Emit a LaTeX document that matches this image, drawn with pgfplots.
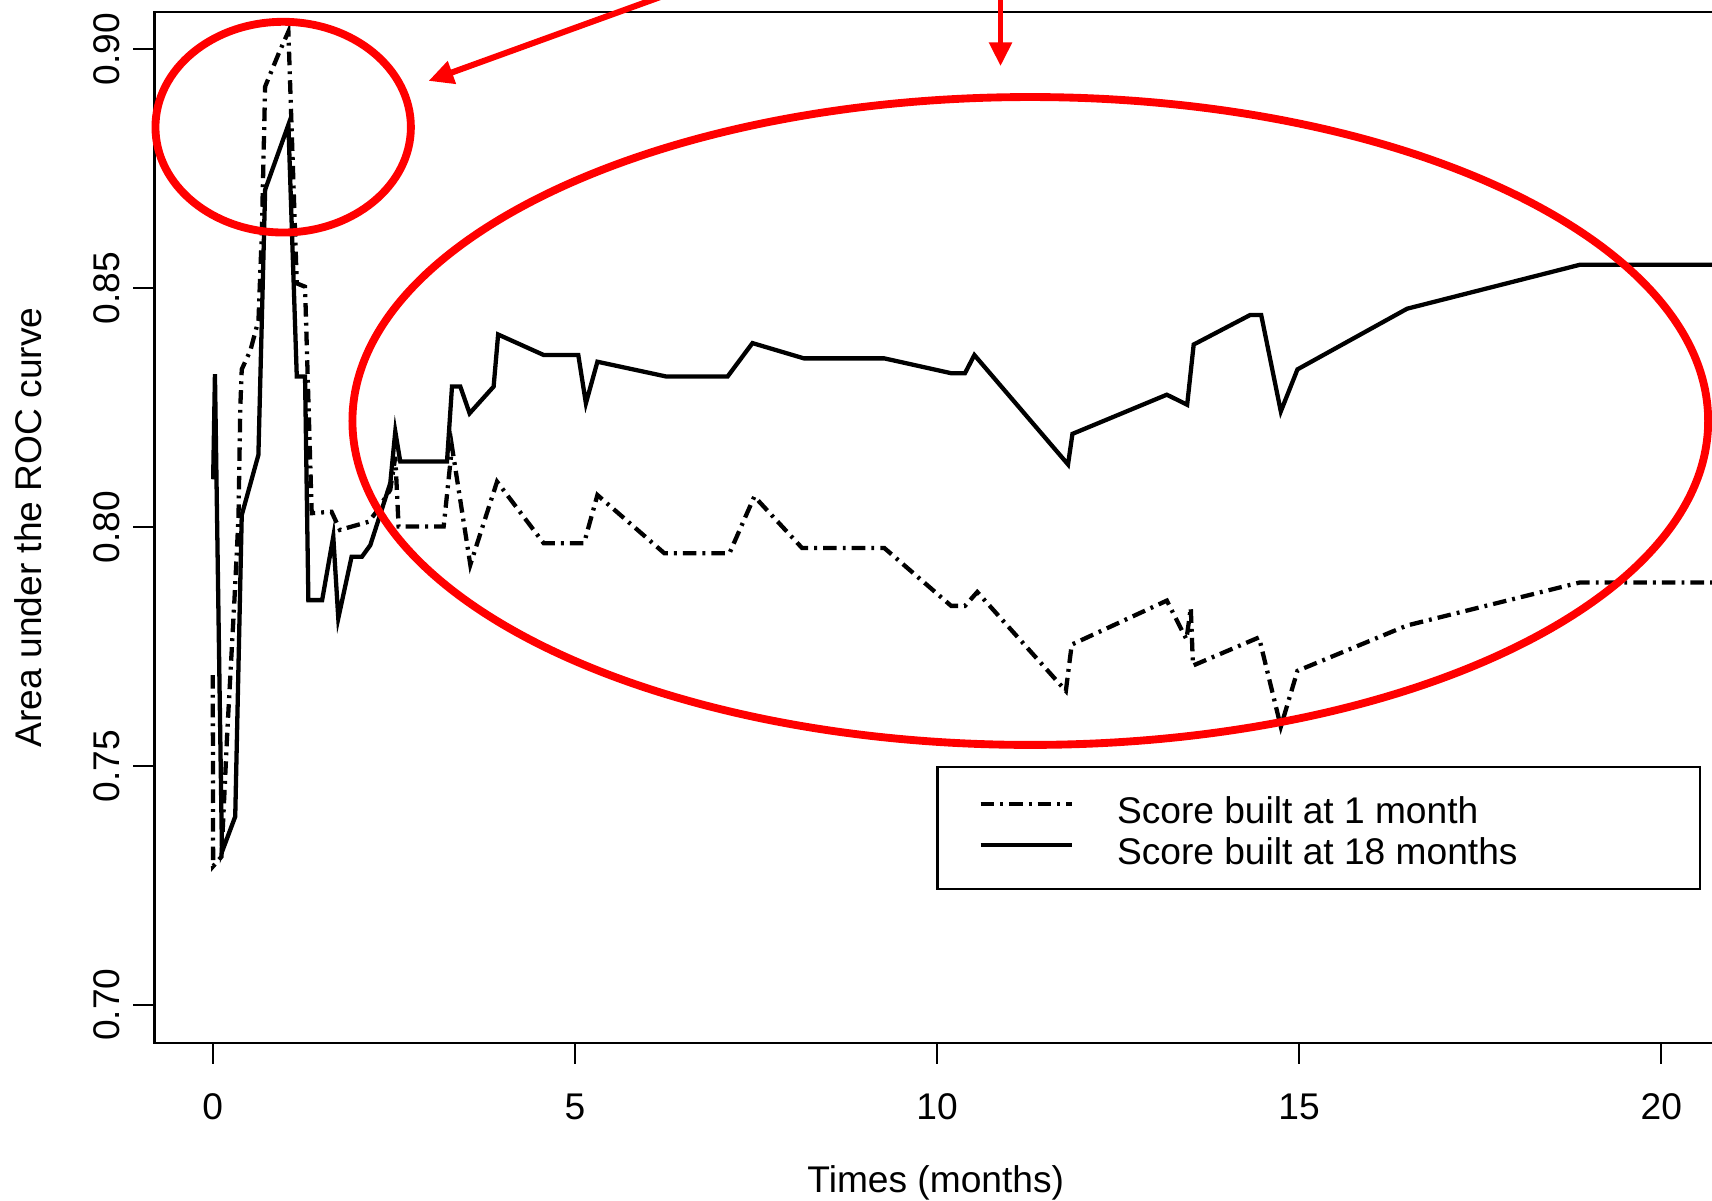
\documentclass[border=0pt]{standalone}
\usepackage{fontspec}
\setmainfont{Liberation Sans}
\usepackage{pgfplots}
\pgfplotsset{compat=1.18}
\usetikzlibrary{arrows.meta}
\newcommand{\fsz}{\fontsize{10.4}{12.5}\selectfont}
\definecolor{annred}{RGB}{255,0,0}
\begin{document}
\begin{tikzpicture}
\begin{axis}[
  scale only axis, width=437.5pt, height=288.6pt,
  xmin=-0.805, xmax=20.77, ymin=0.69205, ymax=0.9078,
  clip=false,
  axis line style={line width=0.6pt},
  tick style={line width=0.6pt, black},
  tick align=outside, major tick length=5.9pt,
  tick pos=left,
  xtick={0,5,10,15,20},
  ytick={0.70,0.75,0.80,0.85,0.90},
  /pgf/number format/assume math mode=true,
  yticklabel style={/pgf/number format/.cd, fixed, fixed zerofill, precision=2, /tikz/.cd, rotate=90, anchor=south, inner sep=3.6pt, font=\fsz},
  xticklabel style={anchor=north, inner sep=8.1pt, font=\fsz},
  xlabel={Times (months)},
  ylabel={Area under the ROC curve},
  xlabel style={at={(axis description cs:0.5,-0.1455)}, anchor=base, inner sep=0pt, font=\fsz},
  ylabel style={at={(axis description cs:-0.0718,0.5)}, anchor=south, inner sep=0pt, font=\fsz},
  legend image code/.code={\draw[#1] (0pt,1.6pt) -- (25.6pt,1.6pt);},
  legend cell align=left,
  legend style={draw=none, fill=none, at={(axis cs:10.562,0.74372)}, anchor=north west, inner sep=0pt, row sep=4.05pt, column sep=12pt, font=\fsz, nodes={inner sep=0pt, text height=7.45pt, text depth=0pt}},
]
% Score built at 1 month (dash-dot)
\addplot[black, line width=1.2pt, dash pattern=on 3.8pt off 1.7pt on 0.8pt off 1.7pt] coordinates {
(0.0,0.769) (0.005,0.729) (0.12,0.731) (0.20,0.757) (0.30,0.785) (0.355,0.802) (0.38,0.825) (0.40,0.833)
(0.52,0.837) (0.631,0.8433) (0.677,0.8615) (0.723,0.8922) (0.907,0.899) (1.044,0.9037)
(1.16,0.851) (1.274,0.8503) (1.366,0.8029) (1.64,0.8032) (1.756,0.7994) (2.151,0.8011) (2.246,0.8029)
(2.451,0.8078) (2.52,0.8147) (2.566,0.8001) (3.188,0.8001) (3.303,0.8168) (3.556,0.7921) (3.925,0.8095)
(4.57,0.7966) (5.126,0.7966) (5.311,0.8067) (6.236,0.7945) (7.134,0.7945) (7.478,0.8064) (8.137,0.7956)
(9.273,0.7956) (10.195,0.7835) (10.386,0.7835) (10.556,0.7864) (11.779,0.7657) (11.86,0.7754) (13.173,0.7846)
(13.444,0.7765) (13.504,0.7831) (13.534,0.771) (14.446,0.7769) (14.747,0.7582) (14.977,0.7699) (16.491,0.7794)
(18.877,0.7884) (20.77,0.7884)
};
\addlegendentry{Score built at 1 month}
% Score built at 18 months (solid)
\addplot[black, line width=1.2pt] coordinates {
(0.005,0.810) (0.03,0.832) (0.127,0.732) (0.31,0.7394) (0.40,0.8025) (0.63,0.8151) (0.723,0.8706)
(1.044,0.8842) (1.16,0.8315) (1.274,0.8315) (1.32,0.7847) (1.51,0.7847) (1.664,0.798) (1.733,0.7809)
(1.917,0.7938) (2.06,0.7938) (2.175,0.7962) (2.451,0.8092) (2.52,0.820) (2.589,0.8137) (3.234,0.8137)
(3.303,0.8294) (3.418,0.8294) (3.546,0.8238) (3.878,0.8294) (3.94,0.8403) (4.57,0.836) (5.047,0.836)
(5.152,0.8259) (5.311,0.8346) (6.263,0.8315) (7.108,0.8315) (7.452,0.8385) (8.163,0.8353) (9.273,0.8353)
(10.195,0.8322) (10.386,0.8322) (10.516,0.836) (11.809,0.8131) (11.87,0.8195) (13.173,0.8277) (13.454,0.8256)
(13.544,0.8382) (14.326,0.8444) (14.476,0.8444) (14.747,0.8242) (14.977,0.833) (16.491,0.8457) (18.877,0.8549)
(20.77,0.8549)
};
\addlegendentry{Score built at 18 months}
% legend frame
\draw[line width=0.6pt] (axis cs:10.007,0.74985) rectangle (axis cs:20.53,0.72420);
% annotations
\draw[annred, line width=2.2pt] (axis cs:0.972,0.8837) ellipse [x radius=35.76pt, y radius=29.5pt];
\draw[annred, line width=2.2pt] (axis cs:11.288,0.8222) ellipse [x radius=189.8pt, y radius=90.7pt];
\draw[annred, line width=1.7pt, -{Triangle[length=7pt,width=6.4pt]}] (axis cs:6.446,0.91241) -- (axis cs:2.978,0.89337);
\draw[annred, line width=1.4pt, -{Triangle[length=6.6pt,width=6.2pt]}] (axis cs:10.877,0.9125) -- (axis cs:10.877,0.8965);
\coordinate (BL) at (axis cs:-2.938,0.65898);
\coordinate (TR) at (axis cs:20.701,0.91032);
\end{axis}
\pgfresetboundingbox
\path (BL) rectangle (TR);
\end{tikzpicture}
\end{document}
